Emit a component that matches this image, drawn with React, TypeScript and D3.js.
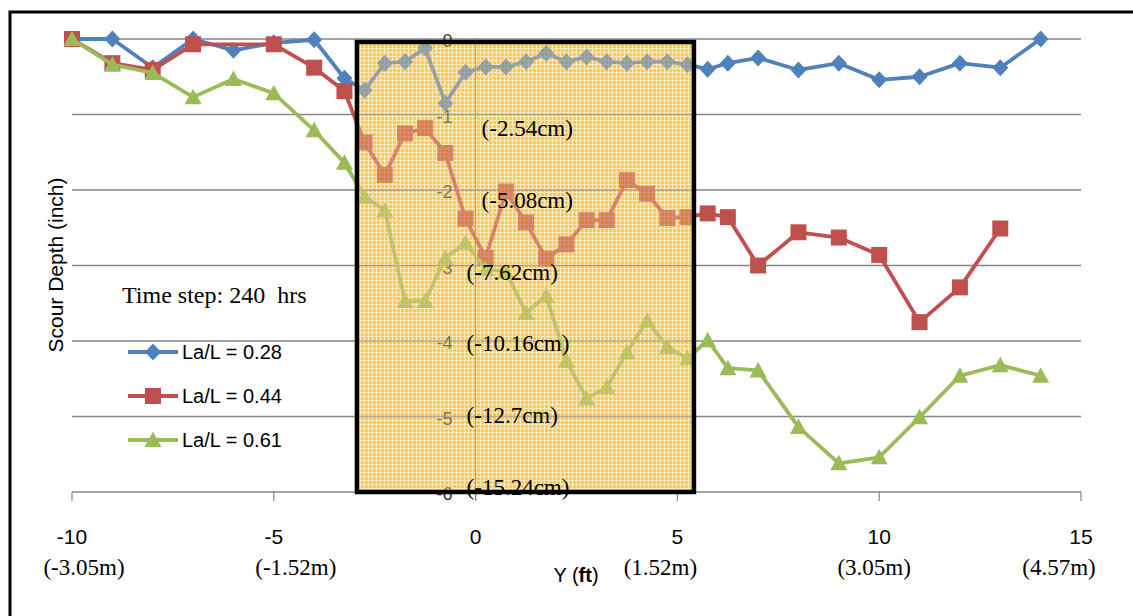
import React from "react";
import * as d3 from "d3";

// station (ft) shared by the three runs
const stations = [
  -10, -9, -8, -7, -6, -5, -4, -3.25, -2.75, -2.25, -1.75, -1.25, -0.75, -0.25,
  0.25, 0.75, 1.25, 1.75, 2.25, 2.75, 3.25, 3.75, 4.25, 4.75, 5.25, 5.75, 6.25,
  7, 8, 9, 10, 11, 12, 13, 14,
];

// scour depth (inch); null = no reading
const depth028 = [
  0, 0, -0.38, 0, -0.15, -0.05, -0.01, -0.52, -0.68, -0.32, -0.3, -0.12, -0.85,
  -0.44, -0.37, -0.37, -0.3, -0.19, -0.3, -0.24, -0.3, -0.32, -0.3, -0.3, -0.34,
  -0.4, -0.32, -0.25, -0.41, -0.32, -0.54, -0.5, -0.32, -0.38, 0,
];
const depth044 = [
  0, -0.32, -0.41, -0.07, null, -0.07, -0.38, -0.69, -1.37, -1.8, -1.25, -1.18,
  -1.51, -2.38, -2.9, -2.02, -2.43, -2.91, -2.72, -2.4, -2.4, -1.87, -2.05,
  -2.37, -2.36, -2.31, -2.36, -3.0, -2.56, -2.63, -2.86, -3.75, -3.29, -2.51,
  null,
];
const depth061 = [
  0, -0.34, -0.45, -0.77, -0.53, -0.72, -1.21, -1.64, -2.09, -2.27, -3.47,
  -3.47, -2.9, -2.7, -3.05, -3.08, -3.63, -3.4, -4.26, -4.76, -4.61, -4.15,
  -3.73, -4.08, -4.23, -3.99, -4.36, -4.39, -5.14, -5.62, -5.54, -5.01, -4.46,
  -4.32, -4.46,
];

const seriesNames = ["La/L = 0.28", "La/L = 0.44", "La/L = 0.61"];
const seriesColors = ["#4F81BD", "#C0504D", "#9BBB59"];
const seriesMarkers = ["diamond", "square", "triangle"];

const xTicks = [-10, -5, 0, 5, 10, 15];
const xMeterLabels = ["(-3.05m)", "(-1.52m)", "", "(1.52m)", "(3.05m)", "(4.57m)"];
const yTicks = [0, -1, -2, -3, -4, -5, -6];
const cmLabels = ["(-2.54cm)", "(-5.08cm)", "(-7.62cm)", "(-10.16cm)", "(-12.7cm)", "(-15.24cm)"];

// highlighted zone (ft, inch)
const zoneX = [-2.94, 5.41];
const zoneDepth = [-0.04, -6.0];

const SERIF = "'Liberation Serif', 'Times New Roman', serif";
const SANS = "'Liberation Sans', Arial, sans-serif";

function markerPath(kind: string) {
  if (kind === "diamond") return "M0,-8.5L8,0L0,8.5L-8,0Z";
  if (kind === "square") return "M-8,-8H8V8H-8Z";
  return "M0,-8.5L8.5,7H-8.5Z";
}

export default function App() {
  const W = 1133;
  const H = 616;
  const x = d3.scaleLinear().domain([-10, 15]).range([72, 1081]);
  const y = d3.scaleLinear().domain([-6, 0]).range([492, 39]);

  const series = [depth028, depth044, depth061].map((vals, i) => ({
    name: seriesNames[i],
    color: seriesColors[i],
    marker: seriesMarkers[i],
    points: stations
      .map((s, j) => [s, vals[j]] as [number, number | null])
      .filter((p) => p[1] !== null) as [number, number][],
  }));

  const line = d3
    .line<[number, number]>()
    .x((d) => x(d[0]))
    .y((d) => y(d[1]));

  const zx0 = x(zoneX[0]);
  const zx1 = x(zoneX[1]);
  const zy0 = y(zoneDepth[0]);
  const zy1 = y(zoneDepth[1]);

  // nudges of the hand-placed metre labels
  const meterNudge = [12, 22, 0, -17, -5, -22];

  return (
    <>
      <style>{"body{margin:0}"}</style>
      <svg width={W} height={H} style={{ display: "block", background: "#fff" }}>
        <defs>
          <pattern id="zoneTex" width="4" height="4" patternUnits="userSpaceOnUse">
            <rect width="4" height="4" fill="#FBD560" />
            <rect width="4" height="1" fill="#FFF0BC" />
            <rect width="1" height="4" fill="#FFF0BC" />
            <rect x="2" y="2" width="1" height="1" fill="#F5C142" />
          </pattern>
          <pattern id="zoneTint" width="4" height="4" patternUnits="userSpaceOnUse">
            <rect width="4" height="4" fill="#F7C53E" />
            <rect width="4" height="1" fill="#FCE39A" />
            <rect width="1" height="4" fill="#FCE39A" />
          </pattern>
        </defs>

        <rect x={10} y={12} width={1140} height={640} fill="none" stroke="#000" strokeWidth={3} />

        {/* zone background */}
        <rect x={zx0} y={zy0} width={zx1 - zx0} height={zy1 - zy0} fill="url(#zoneTex)" />

        {/* gridlines */}
        {yTicks.map((t) => (
          <line key={t} x1={x(-10)} x2={x(15)} y1={y(t)} y2={y(t)} stroke="#868686" strokeWidth={1.4} />
        ))}
        <line x1={x(0)} x2={x(0)} y1={y(0)} y2={y(-6) + 9} stroke="#868686" strokeWidth={1.2} />
        {xTicks.map((t) => (
          <line key={t} x1={x(t)} x2={x(t)} y1={y(-6)} y2={y(-6) + 9} stroke="#868686" strokeWidth={1.2} />
        ))}

        {/* y tick labels */}
        {yTicks.map((t) => (
          <text key={t} x={x(0) - 23} y={y(t) + 2} textAnchor="end" dominantBaseline="central"
            fontFamily={SANS} fontSize={18} fill="#333">
            {String(t)}
          </text>
        ))}

        {/* series */}
        {series.map((s) => (
          <g key={s.name}>
            <path d={line(s.points) || ""} fill="none" stroke={s.color} strokeWidth={3.8} strokeLinejoin="round" />
            {s.points.map((p, j) => (
              <path key={j} d={markerPath(s.marker)} transform={`translate(${x(p[0])},${y(p[1])})`} fill={s.color} />
            ))}
          </g>
        ))}

        {/* zone tint over the marks */}
        <rect x={zx0} y={zy0} width={zx1 - zx0} height={zy1 - zy0} fill="url(#zoneTint)" opacity={0.42} />

        {/* cm labels */}
        <g fontFamily={SERIF} fontSize={23} fill="#000">
          {cmLabels.map((c, i) => (
            <text key={c} x={i < 2 ? x(0) + 6 : x(0) - 9} y={y(-1) + 14 + i * 71.8} dominantBaseline="central">
              {c}
            </text>
          ))}
        </g>

        <rect x={zx0} y={zy0} width={zx1 - zx0} height={zy1 - zy0} fill="none" stroke="#000" strokeWidth={4.5} />

        {/* x tick labels */}
        {xTicks.map((t, i) => (
          <g key={t}>
            <text x={x(t)} y={536} textAnchor="middle" dominantBaseline="central" fontFamily={SANS} fontSize={21}>
              {String(t)}
            </text>
            {xMeterLabels[i] && (
              <text x={x(t) + meterNudge[i]} y={567} textAnchor="middle" dominantBaseline="central"
                fontFamily={SERIF} fontSize={23}>
                {xMeterLabels[i]}
              </text>
            )}
          </g>
        ))}

        {/* axis titles */}
        <text x={576} y={575} textAnchor="middle" dominantBaseline="central" fontFamily={SANS} fontSize={20}>
          {"Y ("}
          <tspan fontWeight="bold">ft</tspan>
          {")"}
        </text>
        <text transform="translate(55,265) rotate(-90)" textAnchor="middle" dominantBaseline="central"
          fontFamily={SANS} fontSize={21}>
          Scour Depth (inch)
        </text>

        {/* annotation + legend */}
        <text x={122} y={295} dominantBaseline="central" fontFamily={SERIF} fontSize={24}>
          Time step: 240{"\u00a0"} hrs
        </text>
        {series.map((s, i) => {
          const ly = 352 + i * 44;
          return (
            <g key={s.name}>
              <line x1={128} x2={178} y1={ly} y2={ly} stroke={s.color} strokeWidth={3.8} />
              <path d={markerPath(s.marker)} transform={`translate(153,${ly})`} fill={s.color} />
              <text x={182} y={ly} dominantBaseline="central" fontFamily={SANS} fontSize={20}>
                {s.name}
              </text>
            </g>
          );
        })}
      </svg>
    </>
  );
}
